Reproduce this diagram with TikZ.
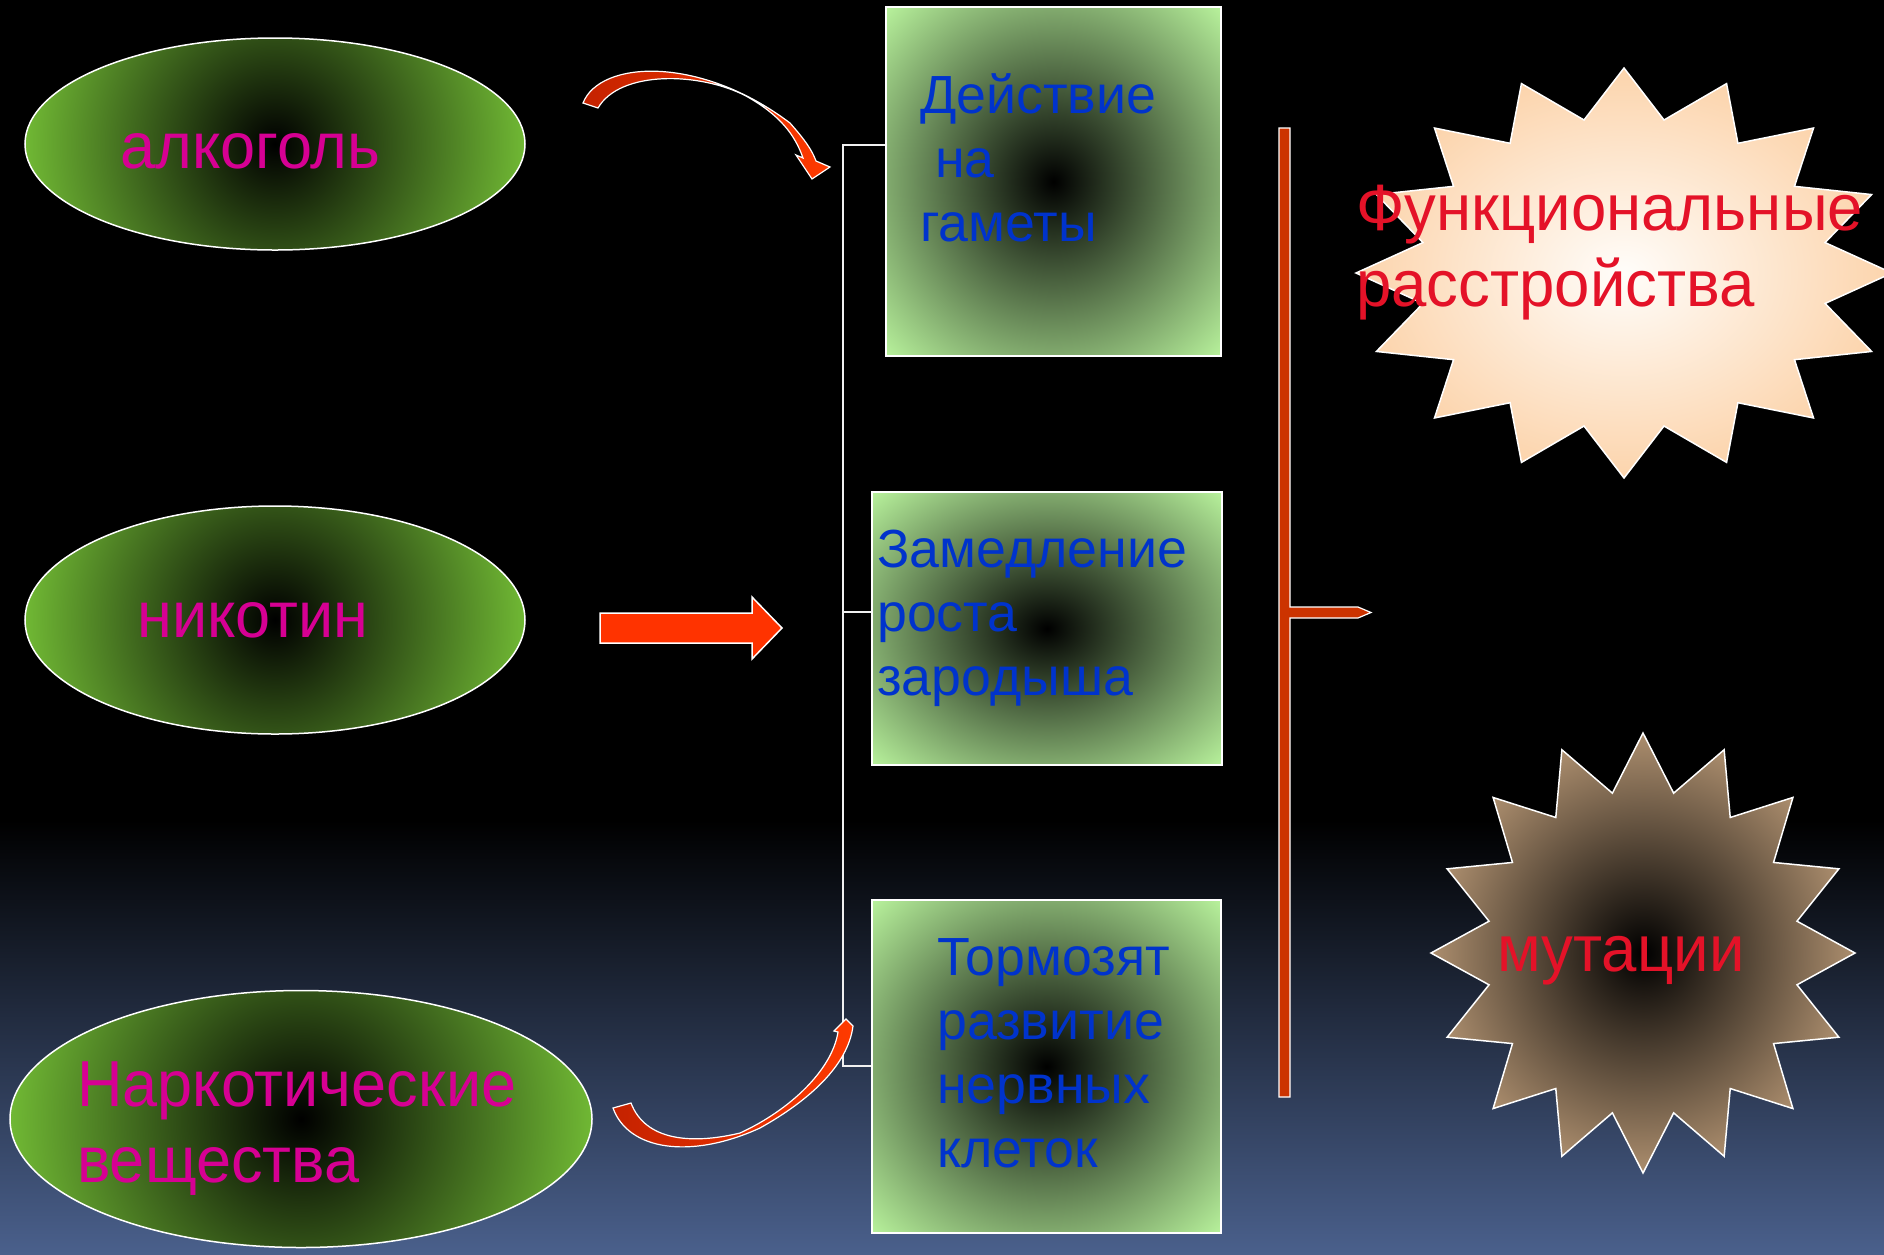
\documentclass[tikz,border=0pt]{standalone}
\usepackage{fontspec}
\setmainfont{Liberation Sans}
\newfontfamily\slimsans[FakeStretch=0.97]{Liberation Sans}
\usetikzlibrary{shapes.geometric}
\definecolor{ellgreen}{RGB}{112,184,52}
\definecolor{boxlight}{RGB}{184,242,156}
\definecolor{peach}{RGB}{252,212,172}
\definecolor{peachc}{RGB}{255,253,250}
\definecolor{startan}{RGB}{172,142,110}
\definecolor{magtext}{RGB}{214,0,147}
\definecolor{bluetext}{RGB}{0,51,204}
\definecolor{redtext}{RGB}{228,18,40}
\definecolor{arrowdark}{RGB}{196,34,0}
\definecolor{arrowbright}{RGB}{255,58,0}
\definecolor{blockred}{RGB}{255,51,0}
\definecolor{bracketred}{RGB}{204,51,0}
\definecolor{bgblue}{RGB}{74,96,140}
\pgfdeclareradialshading{ellshade}{\pgfpoint{0bp}{0bp}}{color(0bp)=(black); color(25bp)=(ellgreen); color(50bp)=(ellgreen)}
\pgfdeclareradialshading{boxshade}{\pgfpoint{0bp}{0bp}}{color(0bp)=(black); color(35.36bp)=(boxlight); color(50bp)=(boxlight)}
\pgfdeclareradialshading{sunshade}{\pgfpoint{0bp}{0bp}}{color(0bp)=(peachc); color(25bp)=(peach); color(50bp)=(peach)}
\pgfdeclareradialshading{mutshade}{\pgfpoint{0bp}{0bp}}{color(0bp)=(black); color(25bp)=(startan); color(50bp)=(startan)}
\tikzset{
  txt/.style={inner sep=0pt, anchor=base west},
  magtxt/.style={txt, text=magtext, font=\slimsans\fontsize{65}{76}\selectfont},
  bluetxt/.style={txt, text=bluetext, font=\fontsize{53.7}{64}\selectfont},
  redtxt/.style={txt, text=redtext, font=\slimsans\fontsize{65.5}{76}\selectfont},
  oval/.style={ellipse, draw=white, line width=1.5pt, inner sep=0pt},
  greenbox/.style={rectangle, shade, shading=boxshade, draw=white, line width=1.8pt, inner sep=0pt},
  conn/.style={draw=white!88!gray, line width=1.5pt},
  curvy/.style={left color=arrowdark, right color=arrowbright, draw=white, line width=1.2pt},
}
\begin{document}
\begin{tikzpicture}[x=1pt,y=-1pt]
\useasboundingbox (0,0) rectangle (1884,1254);
% background
\fill[black] (0,0) rectangle (1884,1254);
\shade[top color=black, bottom color=bgblue] (0,820) rectangle (1884,1254);

% ellipses
\node[oval, minimum width=500pt, minimum height=212pt,
  path picture={\shade[shading=ellshade] (path picture bounding box.center) circle (250pt);}] (alc) at (275,144) {};
\node[oval, minimum width=500pt, minimum height=228pt,
  path picture={\shade[shading=ellshade] (path picture bounding box.center) circle (250pt);}] (nic) at (275,620) {};
\node[oval, minimum width=582pt, minimum height=257pt,
  path picture={\shade[shading=ellshade] (path picture bounding box.center) circle (291pt);}] (nar) at (301,1119) {};

\node[magtxt] (talc) at (120,168) {алкоголь};
\node[magtxt] (tnic) at (137,637) {никотин};
\node[magtxt] (tnar) at (77,1106) {\vtop{\hbox{Наркотические}\hbox{вещества}}};

% boxes
\node[greenbox, minimum width=335pt, minimum height=349pt] (box1) at (1053.5,181.5) {};
\node[greenbox, minimum width=350pt, minimum height=273pt] (box2) at (1047,628.5) {};
\node[greenbox, minimum width=349pt, minimum height=333pt] (box3) at (1046.5,1066.5) {};

\node[bluetxt] (t1) at (920,113) {\vtop{\hbox{Действие}\hbox{\ на}\hbox{гаметы}}};
\node[bluetxt] (t2) at (877,567) {\vtop{\hbox{Замедление}\hbox{роста}\hbox{зародыша}}};
\node[bluetxt] (t3) at (937,975) {\vtop{\hbox{Тормозят}\hbox{развитие}\hbox{нервных}\hbox{клеток}}};

% connector lines
\coordinate (j1) at (843,145);
\coordinate (j2) at (843,612);
\coordinate (j3) at (843,1066);
\draw[conn] (j1 -| box1.west) -- (j1) -- (j3) -- (j3 -| box3.west);
\draw[conn] (j2) -- (j2 -| box2.west);

% block arrow
\draw[fill=blockred, draw=white, line width=1.5pt] (600,613) -- (752,613) -- (752,597) -- (782,628) -- (752,659) -- (752,643) -- (600,643) -- cycle;

% curved arrow top
\shadedraw[curvy] (583,103) .. controls (600,60) and (700,55) .. (790,123)
  .. controls (805,140) and (812,150) .. (816,161) -- (830,167) -- (812,179) -- (796,155) -- (803,158)
  .. controls (795,135) and (780,115) .. (746,96)
  .. controls (700,72) and (620,70) .. (598,108) -- cycle;

% curved arrow bottom
\shadedraw[curvy] (613,1108) .. controls (628,1150) and (690,1160) .. (760,1128)
  .. controls (810,1100) and (848,1065) .. (853,1026) -- (846,1019) -- (834,1031) -- (838,1032)
  .. controls (832,1070) and (790,1110) .. (740,1133)
  .. controls (690,1145) and (645,1140) .. (631,1103) -- cycle;

% bracket
\draw[fill=bracketred, draw=white, line width=1.2pt] (1279,128) -- (1290,128) -- (1290,607) -- (1358,607) -- (1371,612.5) -- (1358,618) -- (1290,618) -- (1290,1097) -- (1279,1097) -- cycle;

% stars
\shadedraw[shading=sunshade, draw=white, line width=1.5pt]
  plot[samples=33, domain=0:32, variable=\k]
  ({1624+(236.5+31.5*cos(\k*180))*sin(\k*11.25)}, {273-(180.5+24.5*cos(\k*180))*cos(\k*11.25)}) -- cycle;
\shadedraw[shading=mutshade, draw=white, line width=1.5pt]
  plot[samples=33, domain=0:32, variable=\k]
  ({1643+(184.5+27.5*cos(\k*180))*sin(\k*11.25)}, {953-(191.5+28.5*cos(\k*180))*cos(\k*11.25)}) -- cycle;

\node[redtxt] (tfun) at (1356,230) {\vtop{\hbox{Функциональные}\hbox{расстройства}}};
\node[redtxt] (tmut) at (1497,971) {мутации};
\end{tikzpicture}
\end{document}
